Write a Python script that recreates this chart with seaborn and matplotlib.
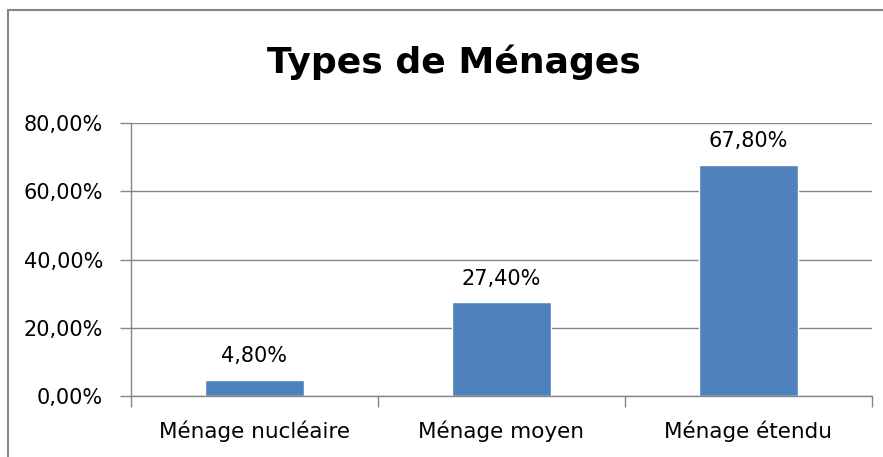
import matplotlib
matplotlib.use("Agg")
import matplotlib.pyplot as plt
import seaborn as sns
import pandas as pd
from matplotlib.patches import Rectangle
from matplotlib.ticker import FuncFormatter

categories = ["Ménage nucléaire", "Ménage moyen", "Ménage étendu"]
values = [4.80, 27.40, 67.80]
yticks = [0, 20, 40, 60, 80]

df = pd.DataFrame({"type": categories, "pct": values})

sns.set_style("white")
plt.rcParams["font.family"] = ["DejaVu Sans"]
plt.rcParams["text.color"] = "black"
plt.rcParams["xtick.labelcolor"] = "black"
plt.rcParams["ytick.labelcolor"] = "black"

fig = plt.figure(figsize=(8.83, 4.57), dpi=100)
ax = fig.add_axes([131 / 883, 61 / 457, 741 / 883, 273 / 457])

# outer chart frame (runs off the right and bottom edges)
fig.patches.append(Rectangle((8 / 883, -0.1), 1.2, (457 - 10) / 457 + 0.1,
                             transform=fig.transFigure, fill=False,
                             edgecolor="#868686", linewidth=1.5))

sns.barplot(data=df, x="type", y="pct", color="#4F81BD", width=0.4,
            saturation=1, ax=ax)

ax.set_ylim(0, 80)
ax.set_xlim(-0.5, 2.5)
ax.set_yticks(yticks)
ax.yaxis.set_major_formatter(FuncFormatter(lambda v, p: f"{v:.2f}%".replace(".", ",")))
ax.set_xlabel("")
ax.set_ylabel("")

ax.set_axisbelow(True)
ax.yaxis.grid(True, color="#868686", linewidth=1)
for s in ["top", "right"]:
    ax.spines[s].set_visible(False)
for s in ["left", "bottom"]:
    ax.spines[s].set_color("#868686")
    ax.spines[s].set_linewidth(1)

ax.tick_params(axis="y", length=8, width=1, color="#868686", labelsize=15,
               pad=12, left=True)
ax.set_xticks([-0.5, 0.5, 1.5, 2.5], minor=True)
ax.tick_params(axis="x", which="minor", length=8, width=1, color="#868686",
               bottom=True)
ax.tick_params(axis="x", which="major", length=0, labelsize=15.5, pad=18)

for i, v in enumerate(values):
    ax.text(i, v + 4, f"{v:.2f}%".replace(".", ","), ha="center",
            va="bottom", fontsize=15, color="black")

fig.text(454 / 883, 1 - 62 / 457, "Types de Ménages", ha="center", va="center",
         fontsize=26, fontweight="bold", color="black")

fig.savefig("out.png", dpi=100)
